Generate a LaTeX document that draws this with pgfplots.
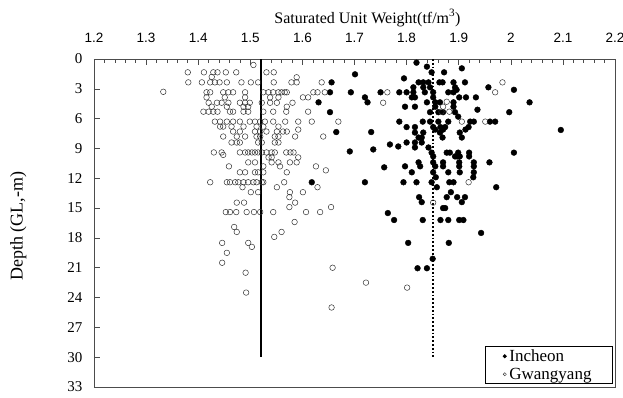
\documentclass[border=0pt]{standalone}
\usepackage{pgfplots}
\pgfplotsset{compat=1.18}
\usepackage{fontspec}
\setmainfont{Liberation Serif}
\newfontfamily\arialf{Liberation Sans}
\begin{document}
\begin{tikzpicture}
\begin{axis}[
  scale only axis, width=521pt, height=328pt,
  xmin=1.2, xmax=2.2, ymin=0, ymax=33,
  y dir=reverse,
  axis line style={black!70},
  xtick={1.2,1.3,...,2.21},
  xticklabels={1.2,1.3,1.4,1.5,1.6,1.7,1.8,1.9,2,2.1,2.2},
  minor x tick num=4,
  ytick={0,3,...,33},
  xtick pos=upper, ytick pos=left,
  xticklabel pos=upper,
  tick align=inside,
  major tick length=6pt, minor tick length=4pt,
  tick style={black!70, line width=0.6pt},
  /pgf/number format/assume math mode=true,
  xticklabel style={font=\arialf\fontsize{13.5}{15}\selectfont, yshift=13pt},
  yticklabel style={font=\fontsize{15}{17}\selectfont, xshift=-8pt},
  xlabel={Saturated Unit Weight(tf/m\textsuperscript{3})},
  xlabel style={font=\fontsize{16}{18}\selectfont, at={(axis description cs:0.525,1)}, anchor=south, yshift=29pt},
  ylabel={Depth (GL,-m)},
  ylabel style={font=\fontsize{18}{20}\selectfont, at={(axis description cs:0,0.49)}, anchor=south, yshift=64pt},
  legend style={at={(axis cs:2.196,32.7)}, anchor=south east, draw=black, line width=0.8pt,
     font=\fontsize{17}{19}\selectfont, inner xsep=18pt, inner ysep=2pt, row sep=3pt,
     nodes={inner xsep=3pt, inner ysep=1pt}},
  legend cell align=left,
  legend image post style={mark size=1.6pt},
]
% Incheon (filled)
\addplot[only marks, mark=*, mark size=2.9pt, mark options={fill=black, draw=black}] coordinates {
(1.701,1.54)(1.656,2.35)(1.653,3.35)(1.693,3.35)(1.750,3.35)(1.786,3.35)(1.720,3.86)
(1.631,4.36)(1.725,4.36)(1.653,5.35)(1.786,6.3)(1.665,7.35)(1.732,7.35)(1.768,8.6)
(1.784,8.8)(1.736,9.1)(1.691,9.3)(1.757,10.9)(1.618,12.4)(1.720,12.4)(1.764,15.5)(1.776,16.2)
(1.819,0.37)(1.839,0.77)(1.906,0.94)(1.848,1.34)(1.872,1.34)(1.795,1.95)
(1.823,2.35)(1.832,2.35)(1.842,2.35)(1.863,2.35)(1.869,2.35)(1.890,2.35)(1.912,2.35)
(1.813,2.85)(1.832,2.85)(1.845,2.85)(1.893,2.85)(1.957,2.85)(1.896,3.1)(2.006,3.1)
(1.800,3.35)(1.813,3.35)(1.835,3.35)(1.851,3.35)(1.880,3.35)(1.890,3.35)
(1.810,3.86)(1.816,3.86)(1.851,3.86)(1.901,3.86)(1.914,3.86)(1.933,3.86)
(1.839,4.36)(1.855,4.36)(1.864,4.36)(1.890,4.36)(2.036,4.36)
(1.797,4.8)(1.816,4.8)(1.855,4.8)(1.890,4.8)(1.936,5.1)
(1.845,5.35)(1.861,5.35)(1.870,5.35)(1.893,5.35)(1.997,5.35)(1.899,5.8)
(1.831,6.3)(1.845,6.3)(1.861,6.3)(1.880,6.3)(1.922,6.3)(1.929,6.3)(1.960,6.3)(1.970,6.3)
(1.800,6.85)(1.816,6.85)(1.851,6.85)(1.865,6.85)(1.874,6.85)(1.919,6.85)
(2.096,7.14)(1.855,7.1)(1.870,7.1)(1.913,7.1)
(1.816,7.4)(1.832,7.4)(1.864,7.4)(1.902,7.4)
(1.823,7.9)(1.829,7.9)(1.869,7.9)(1.906,7.9)
(1.800,8.4)(1.816,8.4)(1.829,8.4)(1.816,8.9)(1.842,8.9)
(1.848,9.42)(1.877,9.42)(1.883,9.42)(1.899,9.42)(1.920,9.42)(2.006,9.42)
(1.851,9.8)(1.893,9.8)(1.897,9.8)(1.902,9.8)(1.920,9.8)
(1.823,10.4)(1.851,10.4)(1.870,10.4)(1.901,10.4)(1.929,10.4)(1.959,10.4)
(1.797,10.8)(1.826,10.8)(1.855,10.8)(1.870,10.8)(1.901,10.8)(1.929,10.8)
(1.810,11.4)(1.851,11.4)(1.880,11.4)(1.902,11.4)(1.929,11.4)
(1.856,11.9)(1.928,11.9)
(1.794,12.4)(1.819,12.4)(1.848,12.4)(1.882,12.4)(1.890,12.4)
(1.858,12.9)(1.972,12.9)(1.885,13.4)
(1.824,13.9)(1.877,13.9)(1.897,13.9)(1.912,13.9)
(1.829,14.4)(1.906,14.4)(1.870,15.0)(1.874,15.0)
(1.831,16.2)(1.865,16.2)(1.880,16.2)(1.901,16.2)(1.909,16.2)
(1.943,17.5)(1.803,18.5)(1.881,18.5)(1.850,20.1)(1.821,21.05)(1.839,21.05)
};
\addlegendentry{Incheon}
% Gwangyang (open)
\addplot[only marks, mark=o, mark size=2.8pt, mark options={draw=black!80, fill=white, line width=0.5pt}] coordinates {
(1.506,0.6)
(1.380,1.34)(1.411,1.34)(1.429,1.34)(1.437,1.34)(1.453,1.34)(1.473,1.34)(1.531,1.34)(1.545,1.34)
(1.426,1.8)(1.589,1.84)
(1.381,2.35)(1.407,2.35)(1.423,2.35)(1.432,2.35)(1.441,2.35)(1.455,2.35)(1.483,2.35)(1.501,2.35)(1.515,2.35)(1.545,2.35)(1.579,2.35)(1.589,2.35)(1.637,2.35)
(1.333,3.3)
(1.416,3.35)(1.423,3.35)(1.448,3.35)(1.458,3.35)(1.467,3.35)(1.490,3.35)(1.525,3.35)(1.535,3.35)(1.544,3.35)(1.554,3.35)(1.560,3.35)(1.566,3.35)(1.570,3.35)(1.621,3.35)(1.629,3.35)(1.643,3.35)(1.763,3.35)
(1.416,3.86)(1.451,3.86)(1.490,3.86)(1.538,3.86)(1.554,3.86)(1.601,3.86)(1.611,3.86)
(1.420,4.4)(1.436,4.4)(1.445,4.4)(1.458,4.4)(1.480,4.4)(1.490,4.4)(1.499,4.4)(1.522,4.4)(1.538,4.4)(1.551,4.4)(1.581,4.4)(1.755,4.4)
(1.426,4.8)(1.455,4.8)(1.487,4.8)(1.496,4.8)(1.570,4.8)
(1.410,5.3)(1.420,5.3)(1.429,5.3)(1.437,5.3)(1.461,5.3)(1.467,5.3)(1.487,5.3)(1.496,5.3)(1.525,5.3)(1.544,5.3)(1.569,5.3)(1.611,5.3)
(1.432,6.3)(1.442,6.3)(1.455,6.3)(1.467,6.3)(1.480,6.3)(1.499,6.3)(1.509,6.3)(1.519,6.3)(1.528,6.3)(1.544,6.3)(1.567,6.3)(1.592,6.3)(1.618,6.3)(1.669,6.3)
(1.442,6.8)(1.448,6.8)(1.464,6.8)(1.487,6.8)(1.512,6.8)(1.525,6.8)(1.554,6.8)(1.592,7.1)
(1.467,7.3)(1.480,7.3)(1.509,7.3)(1.519,7.3)(1.531,7.3)(1.551,7.3)(1.563,7.3)(1.570,7.3)
(1.448,7.8)(1.474,7.8)(1.490,7.8)(1.512,7.8)(1.519,7.8)(1.547,7.8)(1.554,7.8)(1.586,7.8)(1.640,7.8)
(1.464,8.4)(1.474,8.4)(1.480,8.4)(1.515,8.4)(1.522,8.4)(1.547,8.4)(1.554,8.4)
(1.430,9.4)(1.445,9.4)(1.480,9.4)(1.490,9.4)(1.496,9.4)(1.503,9.4)(1.509,9.4)(1.515,9.4)(1.522,9.4)(1.531,9.4)(1.541,9.4)(1.547,9.4)(1.569,9.4)(1.577,9.4)(1.583,9.4)(1.448,9.65)
(1.535,9.9)(1.541,9.9)(1.592,9.9)
(1.496,10.4)(1.509,10.4)(1.541,10.4)(1.554,10.4)(1.576,10.4)(1.589,10.4)
(1.459,10.8)(1.525,10.8)(1.557,10.8)(1.626,10.8)(1.645,11.2)
(1.480,11.4)(1.490,11.4)(1.509,11.4)(1.515,11.4)(1.525,11.4)(1.570,11.4)
(1.423,12.4)(1.455,12.4)(1.461,12.4)(1.471,12.4)(1.477,12.4)(1.487,12.4)(1.496,12.4)(1.506,12.4)(1.512,12.4)(1.522,12.4)(1.525,12.4)(1.565,12.4)
(1.485,12.9)(1.551,12.9)(1.629,12.9)
(1.501,13.4)(1.515,13.4)(1.576,13.4)(1.601,13.4)(1.575,13.9)
(1.474,14.45)(1.488,14.45)(1.586,14.45)(1.575,14.9)(1.655,14.9)
(1.453,15.4)(1.461,15.4)(1.473,15.4)(1.493,15.4)(1.507,15.4)(1.519,15.4)(1.544,15.4)(1.607,15.4)(1.634,15.4)
(1.585,16.4)(1.469,16.9)(1.474,17.4)(1.560,17.4)(1.546,17.9)
(1.446,18.5)(1.496,18.5)(1.503,18.9)(1.455,19.5)(1.446,20.5)(1.658,21.0)(1.491,21.5)
(1.722,22.5)(1.801,23.0)(1.492,23.5)(1.656,25.0)
(1.984,2.35)(1.970,3.35)(1.877,4.3)(1.870,4.8)(1.867,5.3)(1.882,5.3)(1.906,6.3)(1.951,6.3)(1.919,12.4)(1.851,14.45)
};
\addlegendentry{Gwangyang}
\addplot[black, line width=2pt, forget plot] coordinates {(1.52,0)(1.52,30)};
\addplot[black, line width=1.8pt, dotted, forget plot] coordinates {(1.85,0)(1.85,30)};
\end{axis}
\pgfresetboundingbox
\path (-94pt,-11pt) rectangle (529pt,387pt);
\end{tikzpicture}
\end{document}
